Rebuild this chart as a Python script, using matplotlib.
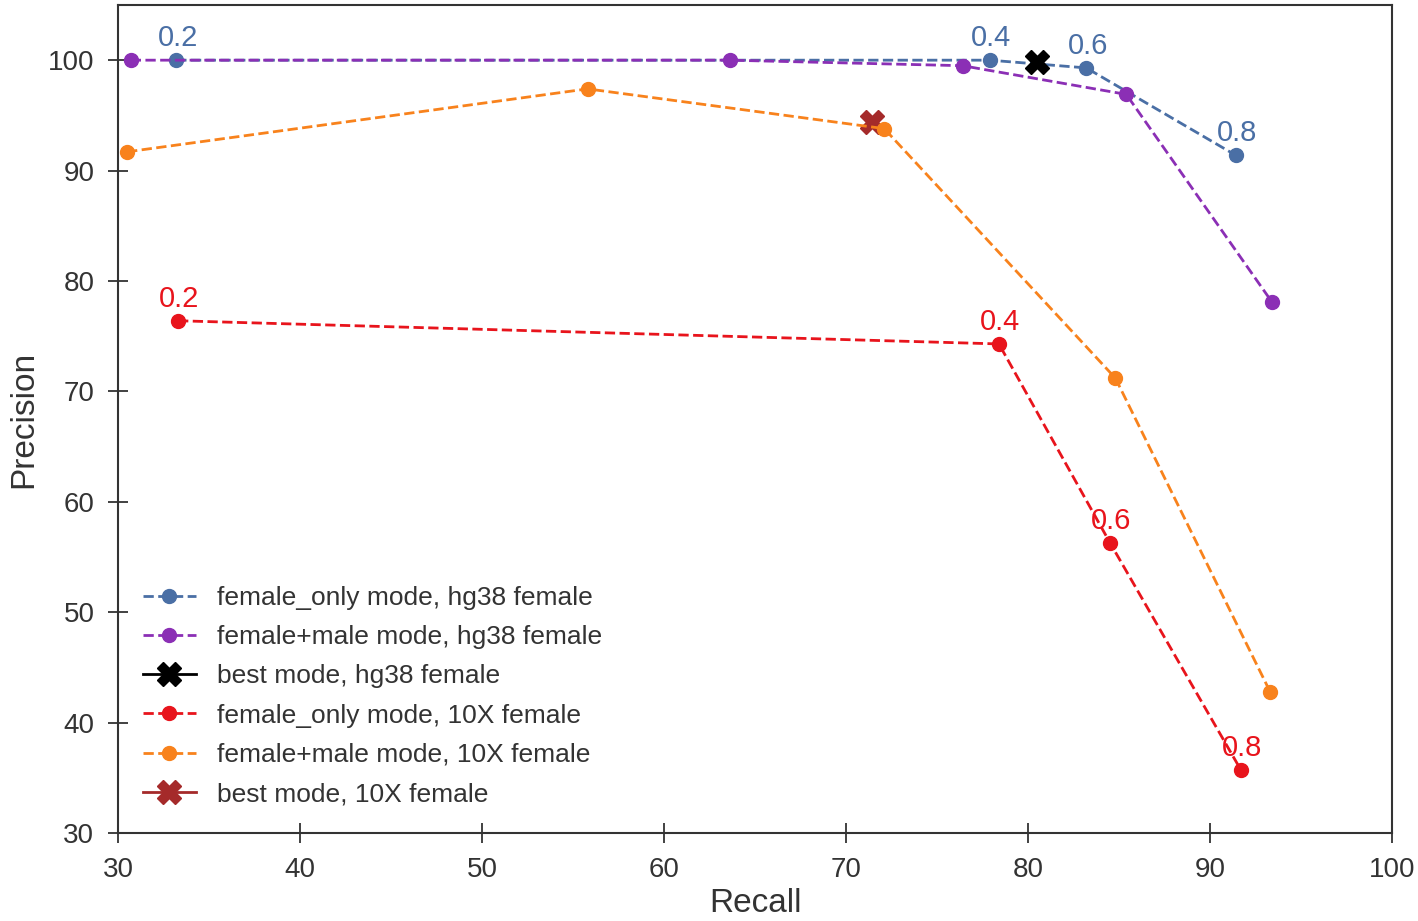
import matplotlib
matplotlib.use('Agg')
import matplotlib.pyplot as plt

plt.rcParams['font.family'] = ['Liberation Sans', 'DejaVu Sans']

# thresholds shown next to the female_only curves
thresholds = ['0.2', '0.4', '0.6', '0.8']

# hg38 female
fo_hg38_recall = [33.2, 77.9, 83.2, 91.4]
fo_hg38_prec = [100.0, 100.0, 99.3, 91.4]
fm_hg38_recall = [30.7, 63.6, 76.4, 85.4, 93.4]
fm_hg38_prec = [100.0, 100.0, 99.5, 96.9, 78.1]
best_hg38_recall = [80.5]
best_hg38_prec = [99.8]

# 10X female
fo_10x_recall = [33.3, 78.4, 84.5, 91.7]
fo_10x_prec = [76.4, 74.3, 56.3, 35.7]
fm_10x_recall = [30.5, 55.8, 72.1, 84.8, 93.3]
fm_10x_prec = [91.7, 97.4, 93.8, 71.2, 42.8]
best_10x_recall = [71.4]
best_10x_prec = [94.4]

c_blue = '#4a6fa5'
c_purple = '#8b2fb5'
c_red = '#e8141c'
c_orange = '#f8821c'
c_brown = '#a52a2a'
c_black = 'black'

fig = plt.figure(figsize=(14.18, 9.21), dpi=100)
ax = fig.add_axes([0.0832, 0.0955, 0.8985, 0.8991])

lw = 2.0
ms = 10
ax.plot(fo_hg38_recall, fo_hg38_prec, '--o', color=c_blue, lw=lw, ms=ms,
        label='female_only mode, hg38 female')
ax.plot(fm_hg38_recall, fm_hg38_prec, '--o', color=c_purple, lw=lw, ms=ms,
        label='female+male mode, hg38 female')
ax.plot(best_hg38_recall, best_hg38_prec, '-X', color=c_black, lw=lw, ms=17,
        label='best mode, hg38 female')
ax.plot(fo_10x_recall, fo_10x_prec, '--o', color=c_red, lw=lw, ms=ms,
        label='female_only mode, 10X female')
ax.plot(best_10x_recall, best_10x_prec, '-X', color=c_brown, lw=lw, ms=17,
        label='best mode, 10X female', zorder=2)
ax.plot(fm_10x_recall, fm_10x_prec, '--o', color=c_orange, lw=lw, ms=ms,
        label='female+male mode, 10X female', zorder=2.1)

for t, x, y in zip(thresholds, fo_hg38_recall, fo_hg38_prec):
    ax.annotate(t, (x, y), xytext=(1, 10), textcoords='offset points',
                ha='center', va='baseline', color=c_blue, fontsize=21)
for t, x, y in zip(thresholds, fo_10x_recall, fo_10x_prec):
    ax.annotate(t, (x, y), xytext=(1, 10), textcoords='offset points',
                ha='center', va='baseline', color=c_red, fontsize=21)

ax.set_xlim(30, 100)
ax.set_ylim(30, 105)
ax.set_xticks(range(30, 101, 10))
ax.set_yticks(range(30, 101, 10))

ax.set_xlabel('Recall', fontsize=24, color='#333333', labelpad=4)
ax.set_ylabel('Precision', fontsize=24, color='#333333', labelpad=6)

for s in ax.spines.values():
    s.set_color('#333333')
    s.set_linewidth(1.5)
ax.tick_params(direction='inout', length=14, width=1.3, color='#333333',
               labelsize=20, labelcolor='#333333', pad=10)

handles, labels = ax.get_legend_handles_labels()
order = [0, 1, 2, 3, 5, 4]
ax.legend([handles[i] for i in order], [labels[i] for i in order],
          loc='lower left', frameon=False, fontsize=19, numpoints=1,
          handlelength=2.0, labelspacing=0.58, borderaxespad=0.3,
          bbox_to_anchor=(0.005, 0.01), labelcolor='#333333')

fig.savefig('out.png', dpi=100)
